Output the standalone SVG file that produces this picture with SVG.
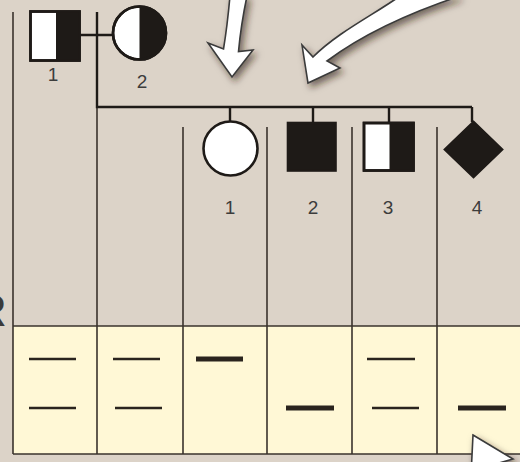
<svg xmlns="http://www.w3.org/2000/svg" width="520" height="462" viewBox="0 0 520 462">
<defs>
<style>
.grid{stroke:#3a332c;stroke-width:1.6;fill:none}
.ped{stroke:#1e1a17;stroke-width:2.4;fill:none}
.sym{stroke:#1e1a17;stroke-width:2.6}
.lbl{font-family:"Liberation Sans",Arial,sans-serif;font-size:19px;fill:#3c3c3c;text-anchor:middle}
.band{stroke:#2a241e;stroke-linecap:butt}
.thin{stroke-width:2.6}
.thick{stroke-width:5}
.arrow{fill:#ffffff;stroke:#3a3a3a;stroke-width:1.6;stroke-linejoin:miter;filter:url(#sh)}
</style>
<filter id="sh" x="-50%" y="-50%" width="200%" height="200%">
<feDropShadow dx="3" dy="4" stdDeviation="3.5" flood-color="#2a2018" flood-opacity="0.6"/>
</filter>
</defs>
<rect x="0" y="0" width="520" height="462" fill="#dcd3c8"/>
<rect x="13" y="326" width="507" height="128" fill="#fff8d6"/>
<text x="-25" y="326" font-family="Liberation Sans,Arial,sans-serif" font-size="44" fill="#3a3a3a">R</text>
<g id="grid">
<line class="grid" x1="13" y1="12" x2="13" y2="454"/>
<line class="grid" x1="97" y1="106" x2="97" y2="454"/>
<line class="grid" x1="183" y1="127" x2="183" y2="454"/>
<line class="grid" x1="267" y1="127" x2="267" y2="454"/>
<line class="grid" x1="352" y1="127" x2="352" y2="454"/>
<line class="grid" x1="437" y1="127" x2="437" y2="454"/>
<line class="grid" x1="13" y1="326" x2="520" y2="326"/>
<line class="grid" x1="13" y1="454" x2="520" y2="454"/>
</g>
<g id="connectors">
<line class="ped" x1="80" y1="35" x2="113" y2="35"/>
<polyline class="ped" points="97,12 97,107 472,107"/>
<line class="ped" x1="230" y1="107" x2="230" y2="121"/>
<line class="ped" x1="313" y1="107" x2="313" y2="123"/>
<line class="ped" x1="389" y1="107" x2="389" y2="123"/>
<line class="ped" x1="472" y1="107" x2="472" y2="122"/>
</g>
<g id="I-1">
<rect x="30.5" y="11.5" width="49" height="49" fill="#ffffff" class="sym"/>
<rect x="56" y="11.5" width="23.5" height="49" fill="#1e1a17"/>
<rect x="30.5" y="11.5" width="49" height="49" fill="none" class="sym"/>
<text class="lbl" x="53" y="81">1</text>
</g>
<g id="I-2">
<circle cx="139.5" cy="33" r="26.5" fill="#ffffff" class="sym"/>
<path d="M139.5,6.5 A26.5,26.5 0 0 1 139.5,59.5 Z" fill="#1e1a17"/>
<circle cx="139.5" cy="33" r="26.5" fill="none" class="sym"/>
<text class="lbl" x="142" y="88">2</text>
</g>
<g id="II-1">
<circle cx="230.5" cy="148.5" r="27" fill="#ffffff" class="sym"/>
<text class="lbl" x="230" y="214">1</text>
</g>
<g id="II-2">
<rect x="288" y="123" width="47.5" height="47.5" fill="#1e1a17" class="sym"/>
<text class="lbl" x="313" y="214">2</text>
</g>
<g id="II-3">
<rect x="364" y="123" width="49.5" height="47.5" fill="#ffffff" class="sym"/>
<rect x="389.5" y="123" width="24" height="47.5" fill="#1e1a17"/>
<rect x="364" y="123" width="49.5" height="47.5" fill="none" class="sym"/>
<text class="lbl" x="388" y="214">3</text>
</g>
<g id="II-4">
<polygon points="473.5,122 502,149.5 473.5,177 445,149.5" fill="#1e1a17" class="sym"/>
<text class="lbl" x="477" y="214">4</text>
</g>
<g id="bands">
<line class="band thin" x1="29" y1="359" x2="76" y2="359"/>
<line class="band thin" x1="29" y1="408" x2="76" y2="408"/>
<line class="band thin" x1="113" y1="359" x2="160" y2="359"/>
<line class="band thin" x1="115" y1="408" x2="162" y2="408"/>
<line class="band thick" x1="196" y1="359" x2="243" y2="359"/>
<line class="band thick" x1="286" y1="408" x2="334" y2="408"/>
<line class="band thin" x1="367" y1="359" x2="415" y2="359"/>
<line class="band thin" x1="372" y1="408" x2="419" y2="408"/>
<line class="band thick" x1="458" y1="408" x2="506" y2="408"/>
</g>
<g id="arrows">
<path class="arrow" d="M230,-4 C228,18 226,34 223.5,49 L208,43 L232,77 L253,50 L238.5,51.5 C240,35 243,15 247,-4 Z"/>
<path class="arrow" d="M400,-4 C375,14 338,32 313,57 L302,45 L308,83 L340,68 L327,61 C355,40 400,16 460,-4 Z"/>
<path class="arrow" d="M473,435 L513,459 L499,463 L508,480 L492,484 L484,468 L471,476 Z"/>
</g>
</svg>
